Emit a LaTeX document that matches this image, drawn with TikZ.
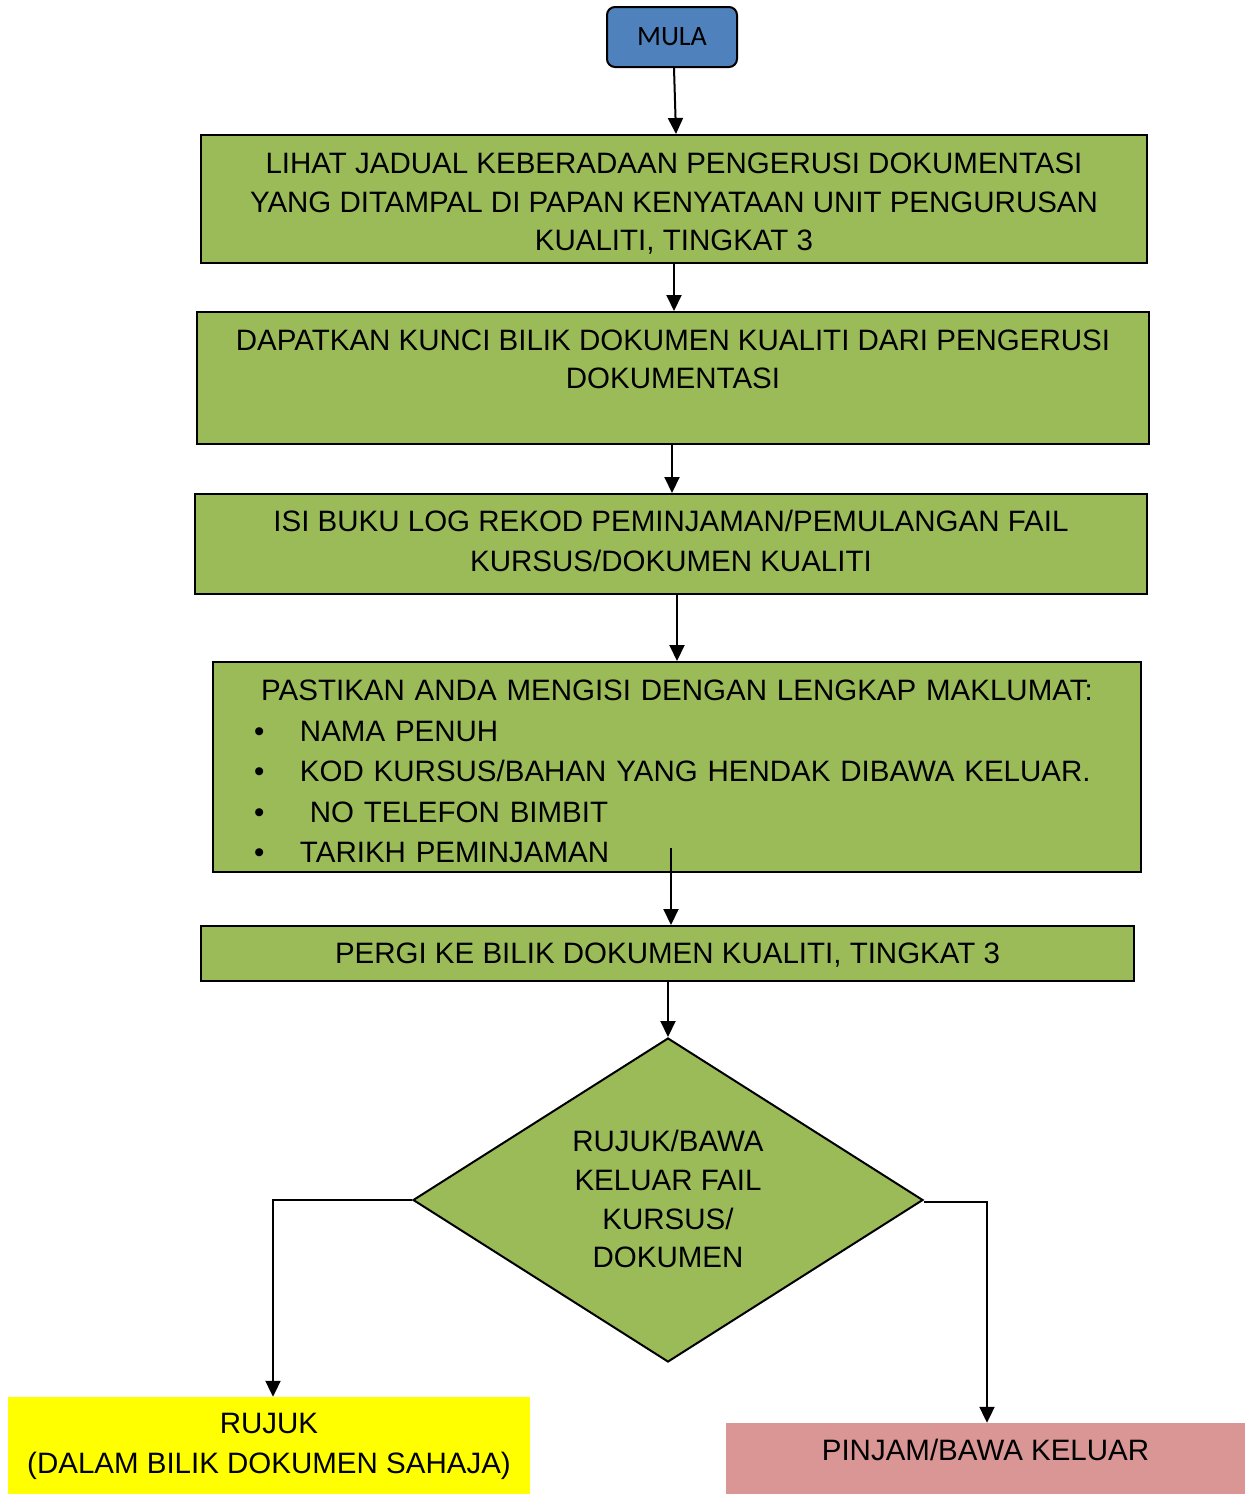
\documentclass[tikz,border=0pt]{standalone}
\usepackage{fontspec}
\setmainfont{Liberation Sans}
\newfontfamily\calibrifont{Carlito}
\usetikzlibrary{shapes.geometric,arrows.meta}

\definecolor{mulablue}{HTML}{4F81BD}
\definecolor{stepgreen}{HTML}{9BBB59}
\definecolor{rujukyellow}{HTML}{FFFF00}
\definecolor{pinjampink}{HTML}{D99694}

\newcommand{\bitem}[1]{\hspace*{41pt}\makebox[46pt][l]{\textbullet}#1}

\begin{document}
\begin{tikzpicture}[x=1pt, y=-1pt,
    stepbox/.style={rectangle, draw, line width=2pt, fill=stepgreen, inner sep=0pt, align=center,
        text depth=0pt, font=\fontsize{29.5}{38.5}\selectfont},
    endbox/.style={rectangle, inner sep=0pt, align=center, text depth=0pt, font=\fontsize{29.5}{40}\selectfont},
    arrow/.style={line width=2pt, -{Triangle[width=15pt,length=16pt]}}]
        \useasboundingbox (0,0) rectangle (1245,1494);

        % Nodes
        \node (mula) [rectangle, rounded corners=8pt, draw, line width=2pt, fill=mulablue,
            minimum width=130pt, minimum height=60pt, font=\calibrifont\fontsize{28}{34}\selectfont] at (672,37) {MULA};
        \node (box1) [stepbox, minimum width=946pt, minimum height=128pt, text height=103.5pt] at (674,199)
            {LIHAT JADUAL KEBERADAAN PENGERUSI DOKUMENTASI\\ YANG DITAMPAL DI PAPAN KENYATAAN UNIT PENGURUSAN\\ KUALITI, TINGKAT 3};
        \node (box2) [stepbox, minimum width=952pt, minimum height=132pt, text height=21.5pt] at (673,378)
            {DAPATKAN KUNCI BILIK DOKUMEN KUALITI DARI PENGERUSI\\ DOKUMENTASI};
        \node (box3) [stepbox, minimum width=952pt, minimum height=100pt, text height=55.5pt,
            font=\fontsize{29.5}{40}\selectfont] at (671,544)
            {ISI BUKU LOG REKOD PEMINJAMAN/PEMULANGAN FAIL\\ KURSUS/DOKUMEN KUALITI};
        \node (box4) [stepbox, minimum width=928pt, minimum height=210pt, text height=0pt, text depth=132.5pt,
            text width=928pt, align=left, font=\fontsize{29.5}{40.5}\selectfont] at (677,767)
            {\makebox[928pt][c]{PASTIKAN ANDA MENGISI DENGAN LENGKAP MAKLUMAT:}\\
             \bitem{NAMA PENUH}\\
             \bitem{KOD KURSUS/BAHAN YANG HENDAK DIBAWA KELUAR.}\\
             \bitem{\ NO TELEFON BIMBIT}\\
             \bitem{TARIKH PEMINJAMAN}};
        \node (box5) [stepbox, minimum width=933pt, minimum height=55pt, text height=20.5pt] at (667.5,953.5)
            {PERGI KE BILIK DOKUMEN KUALITI, TINGKAT 3};
        \node (dec) [diamond, aspect=1.57, draw, line width=2pt, fill=stepgreen, inner sep=0pt, align=center,
            minimum width=510pt, minimum height=324pt, text height=135.5pt, text depth=0pt,
            font=\fontsize{29.5}{38.7}\selectfont] at (668,1200)
            {RUJUK/BAWA\\ KELUAR FAIL\\ KURSUS/\\ DOKUMEN};
        \node (rujuk) [endbox, fill=rujukyellow, minimum width=522pt, minimum height=97pt, text height=56.5pt] at (269,1445.5)
            {RUJUK\\ (DALAM BILIK DOKUMEN SAHAJA)};
        \node (pinjam) [endbox, fill=pinjampink, minimum width=519pt, minimum height=71pt,
            text height=4.5pt] at (985.5,1458.5) {PINJAM/BAWA KELUAR};
        \coordinate (tail) at (671,848);

        % Edges
        \draw[arrow] ([xshift=2pt]mula.south) -- ([xshift=2pt]box1.north);
        \draw[arrow] (box1.south) -- (box1.south |- box2.north);
        \draw[arrow] ([xshift=-1pt]box2.south) -- ([xshift=-1pt]box2.south |- box3.north);
        \draw[arrow] (box4.north |- box3.south) -- (box4.north);
        \draw[arrow] (tail) -- (tail |- box5.north);
        \draw[arrow] (dec.north |- box5.south) -- (dec.north);
        \draw[arrow] (dec.west) -| ([xshift=4pt]rujuk.north);
        \draw[arrow] ([yshift=-2pt]dec.east) -| ([xshift=1.5pt]pinjam.north);
    \end{tikzpicture}
\end{document}
